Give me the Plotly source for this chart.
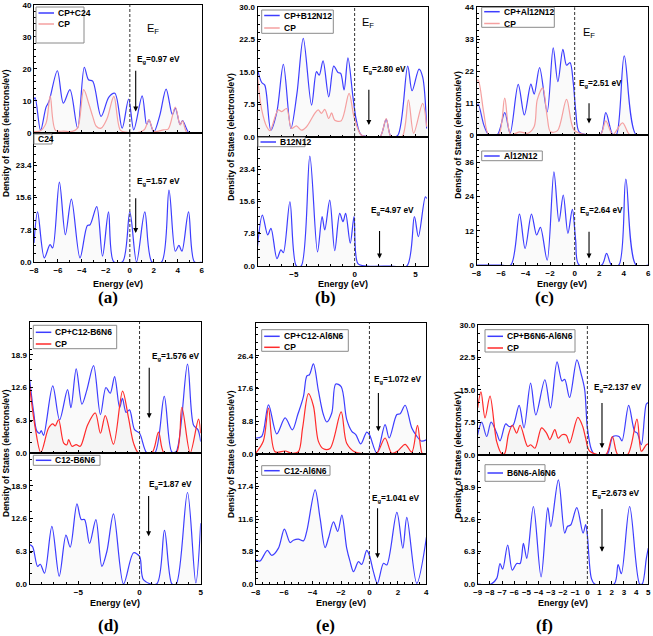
import plotly.graph_objects as go

W, H = 653, 636

# ---------------- data (energy in eV, DOS in electrons/eV) ----------------
# (a) CP+C24 / CP / C24
a_blue_x = [-8, -7.9, -7.45, -7.0, -6.75, -6.05, -5.55, -5.0, -4.36, -3.8, -3.45, -3.1, -2.4, -1.75, -1.25,
            -0.64, -0.1, 0.33, 1.03, 1.4, 1.6, 2.0, 2.5, 3.03, 3.55, 3.8, 4.2, 4.4, 4.95, 5.5, 6.0]
a_blue_y = [10.5, 11, 0.8, 8.0, 9.8, 19.4, 9.3, 13.5, 1.5, 20.5, 16.6, 16.2, 5.2, 11.2, 12.4,
            1.5, 10.6, 1.0, 11.6, 2.6, 4.1, 0.3, 5.5, 13.7, 5.7, 7.8, 2.6, 3.9, 0, 0, 0]
a_red_x = [-8, -7.5, -7.0, -6.65, -6.2, -5.5, -4.8, -4.36, -3.85, -3.4, -3.1, -2.8, -2.4, -1.9, -1.33,
           -0.78, -0.2, 0.5, 1.2, 1.6, 2.0, 2.8, 3.2, 3.8, 4.2, 4.4, 4.8, 6.0]
a_red_y = [0.5, 0.6, 3.0, 11.6, 0.8, 0.6, 0.5, 1.5, 13.5, 8.8, 5.2, 2.1, 1.5, 4.5, 11.4,
           0.8, 0.2, 0, 1.0, 4.1, 0.5, 1.0, 1.2, 8.1, 2.5, 3.8, 0, 0]
a_bot_x = [-8, -7.7, -7.14, -6.66, -6.44, -5.88, -5.38, -4.88, -4.16, -3.55, -3.32, -2.76, -2.28, -1.78,
           -1.35, -0.6, 0.0, 0.56, 1.25, 1.85, 2.65, 3.27, 3.8, 4.1, 4.35, 4.9, 5.4, 6.0]
a_bot_y = [4.6, 12.1, 1.0, 4.2, 3.4, 19.3, 6.6, 15.2, 1.0, 8.8, 9.0, 13.4, 1.4, 12.1,
           0.1, 0.1, 12.1, 0, 12.1, 0, 0, 17.4, 2.6, 4.0, 2.6, 12.1, 0, 0]

# (b) CP+B12N12 / CP / B12N12
b_blue_x = [-8, -7.65, -7.4, -6.9, -6.4, -5.87, -5.25, -4.75, -4.23, -3.55, -3.14, -2.92, -2.6, -2.13, -1.72,
            -1.37, -1.15, -0.87, -0.55, -0.14, 0.14, 0.55, 1.5, 2.1, 2.6, 3.0, 3.55, 4.37, 4.73, 5.3, 5.6, 5.93]
b_blue_y = [15.5, 12.5, 11.9, 1.5, 5.8, 16.7, 1.9, 10, 22.7, 7.3, 15.0, 14.2, 17.5, 9.2, 16.3,
            14.8, 14.6, 10.8, 18.2, 9.2, 3.8, 0.4, 0, 0, 4.0, 0, 0.3, 16.3, 10.6, 15.6, 13.8, 1.9]
b_red_x = [-8, -7.65, -7.24, -6.97, -6.3, -6.0, -5.6, -5.2, -4.8, -4.37, -3.96, -3.28, -3.0, -2.73, -2.46,
           -2.13, -1.9, -1.64, -1.1, -0.46, -0.05, 0.55, 1.5, 2.1, 2.6, 3.0, 3.9, 4.43, 4.86, 5.6, 5.93]
b_red_y = [13.8, 6.2, 2.3, 1.4, 6.2, 5.8, 6.5, 1.9, 2.5, 1.5, 2.3, 5.4, 6.2, 5.4, 6.3,
           4.2, 5.5, 3.8, 3.7, 10.0, 4.6, 0.4, 0, 0, 4.2, 0, 0, 8.5, 0.8, 7.7, 2.3]
b_bot_x = [-8, -7.6, -7.16, -6.89, -6.4, -6.07, -5.87, -5.33, -4.8, -4.4, -3.69, -3.06, -2.68, -2.46, -2.05,
           -1.64, -1.23, -0.96, -0.74, -0.36, -0.05, 0.27, 1.0, 3.0, 4.3, 4.92, 5.25, 5.82, 5.93]
b_bot_y = [4.7, 12.3, 7.5, 9.1, 1.8, 3.9, 3.2, 15.5, 0, 0, 26.5, 3.4, 11.9, 8.7, 15.9,
           3.7, 12.7, 10.7, 12.7, 5.5, 11.9, 0.6, 0, 0, 0, 11.9, 7.1, 16.7, 16.3]

# (c) CP+Al12N12 / CP / Al12N12
c_blue_x = [-8, -7.86, -7.4, -7.0, -6.3, -5.7, -5.26, -4.6, -4.1, -3.57, -3.3, -2.86, -2.24, -1.75, -1.37,
            -0.96, -0.66, -0.38, -0.11, 0.08, 0.36, 1.0, 2.1, 2.54, 3.1, 3.4, 4.04, 5.0, 6.0]
c_blue_y = [9.7, 10.6, 3.3, 0, 0, 7.6, 0.5, 17.4, 6.8, 17.5, 14.0, 23.2, 7.9, 30.0, 18.3,
            29.5, 24.0, 24.9, 17.7, 8.5, 1.0, 0, 0, 7.6, 0, 0, 27.2, 0, 0]
c_red_x = [-8, -7.86, -7.4, -7.0, -6.2, -5.7, -5.2, -4.5, -3.8, -3.3, -3.05, -2.6, -2.24, -1.97, -1.4,
           -0.66, -0.05, 1.0, 2.1, 2.54, 3.1, 3.9, 4.5, 6.0]
c_red_y = [18.3, 18.9, 7.4, 0, 0, 12.6, 0, 1.0, 0.5, 2.8, 12.0, 16.2, 6.2, 1.0, 1.4,
           12.2, 1.6, 0, 0, 4.8, 0, 4.1, 0, 0]
c_bot_x = [-8, -6, -5.2, -4.5, -4.04, -3.52, -3.1, -2.79, -2.24, -1.69, -1.28, -0.93, -0.55, -0.19, 0.08,
           0.36, 2.2, 2.6, 3.0, 3.6, 4.17, 5.0, 6.0]
c_bot_y = [0, 0, 0, 17.8, 5.8, 17.8, 10.5, 13.2, 1.7, 32.6, 15.2, 24.5, 11.1, 19.5, 8.7,
           0, 0, 4.1, 0, 0, 30.1, 0, 0]

# (d) CP+C12-B6N6 / CP / C12-B6N6
d_blue_x = [-9, -8.67, -8.4, -8.17, -8.04, -7.85, -7.1, -6.54, -5.89, -5.61, -5.18, -4.71, -4.3, -3.76, -3.2,
            -2.75, -2.4, -2.04, -1.63, -1.4, -1.1, -0.82, -0.41, 0, 0.6, 1.25, 2.02, 2.64, 3.0, 3.92, 4.41,
            4.77, 5.0]
d_blue_y = [14.3, 8.0, 4.2, 3.8, 4.3, 3.4, 12.9, 6.4, 12.2, 8.7, 16.2, 9.4, 12.2, 16.8, 7.4,
            12.6, 11.5, 14.7, 8.7, 10.5, 7.8, 8.3, 4.5, 3.8, 0, 0, 10.9, 0.2, 0.3, 17.1, 5.4,
            4.5, 2.2]
d_red_x = [-9, -8.53, -8.07, -7.44, -7.1, -6.9, -6.62, -6.2, -5.94, -5.8, -5.53, -5.18, -4.85, -4.25, -3.62,
           -3.2, -2.8, -2.13, -1.39, -0.9, -0.49, -0.08, 1.0, 1.55, 2.0, 3.0, 3.46, 4.14, 4.82, 5.0]
d_red_y = [13.1, 4.8, 0.1, 4.8, 5.6, 5.2, 6.4, 1.9, 1.6, 2.6, 1.3, 1.6, 1.3, 5.4, 7.7,
           3.8, 7.2, 1.7, 11.9, 6.7, 1.9, 0, 0, 4.0, 0, 0, 8.8, 0, 6.5, 3.8]
d_bot_x = [-9, -8.75, -8.34, -8.12, -7.77, -7.17, -6.57, -6.02, -5.67, -5.12, -4.77, -4.5, -4.09, -3.57, -3.08,
           -2.67, -2.13, -1.31, -0.49, 0, 0.33, 1.4, 2.04, 2.65, 3.0, 3.92, 4.6, 5.0]
d_bot_y = [7.6, 7.2, 3.4, 3.8, 2.1, 11.1, 1.5, 9.4, 7.1, 15.4, 12.4, 12.4, 7.8, 12.4, 3.4,
           6.3, 13.5, 0, 6.0, 5.3, 0.8, 0, 10.3, 0, 0, 17.6, 0.2, 11.7]

# (e) CP+C12-Al6N6 / CP / C12-Al6N6
e_blue_x = [-8, -7.58, -7.1, -6.52, -5.93, -5.42, -5.04, -4.64, -4.4, -4.22, -3.94, -3.59, -3.24, -3.0, -2.65,
            -2.37, -1.99, -1.6, -1.24, -0.96, -0.61, -0.19, 0, 0.52, 1.1, 1.39, 1.93, 2.16, 2.51, 2.98, 3.29,
            3.64, 4.0]
e_blue_y = [4.3, 4.7, 13.2, 5.4, 9.7, 6.5, 10.6, 15.5, 21.0, 21.3, 24.2, 17.0, 10.6, 8.6, 11.0,
            18.8, 18.1, 9.3, 6.1, 5.2, 2.7, 5.9, 5.2, 0.2, 7.9, 4.3, 10.6, 10.8, 13.1, 7.0, 5.0,
            3.5, 3.8]
e_red_x = [-8, -7.46, -7.1, -6.64, -5.93, -5.46, -5.0, -4.7, -4.29, -3.94, -3.59, -3.24, -2.77, -1.99, -1.6,
           -1.0, 0, 0.52, 1.1, 1.57, 1.99, 2.51, 2.98, 3.38, 3.73, 4.0]
e_red_y = [0.2, 3.5, 12.3, 0.6, 0.8, 0.2, 0.6, 7.0, 16.2, 12.9, 3.4, 1.4, 1.5, 11.3, 2.9,
           0.5, 0, 0.2, 4.3, 0.2, 0.8, 2.6, 0.5, 7.7, 0, 0]
e_bot_x = [-8, -7.7, -7.18, -6.87, -6.4, -5.98, -5.58, -5.35, -5.0, -4.64, -4.41, -3.82, -3.47, -3.12, -2.88,
           -2.53, -2.23, -1.94, -1.6, -1.36, -1.12, -0.77, -0.54, -0.19, 0, 0.28, 0.56, 0.99, 1.22, 1.93,
           2.35, 2.63, 3.33, 4.04]
e_bot_y = [4.3, 4.1, 6.0, 5.1, 6.4, 9.8, 7.4, 7.8, 8.0, 7.7, 9.4, 16.8, 11.7, 6.5, 8.2,
           11.1, 9.4, 12.3, 6.4, 4.0, 2.2, 4.0, 3.5, 6.0, 5.1, 2.2, 0.1, 3.7, 3.4, 12.8,
           6.4, 11.9, 0.1, 8.8]

# (f) CP+B6N6-Al6N6 / CP / B6N6-Al6N6
f_blue_x = [-9, -8.67, -8.26, -7.9, -7.44, -7.17, -6.7, -6.43, -6.1, -5.6, -5.2, -4.66, -4.23, -3.49, -3.03,
            -2.49, -2.08, -1.86, -1.46, -0.86, -0.5, -0.22, 0, 0.33, 0.6, 1.6, 2.1, 2.6, 2.84, 3.39, 3.88,
            4.1, 4.43, 4.84, 5.0]
f_blue_y = [4.6, 7.5, 4.2, 7.5, 5.0, 3.2, 7.1, 6.5, 6.8, 11.4, 6.2, 16.5, 9.2, 17.3, 10.8,
            21.4, 17.0, 17.4, 13.2, 21.9, 18.5, 15.0, 6.2, 1.2, 0, 0, 4.2, 4.2, 3.2, 11.4, 5.4,
            5.0, 2.3, 11.7, 12.0]
f_red_x = [-9, -8.73, -8.4, -7.99, -7.44, -7.03, -6.8, -6.48, -6.16, -5.8, -5.52, -4.9, -4.66, -4.3, -3.76,
           -3.35, -3.08, -2.67, -2.4, -2.08, -1.73, -1.46, -0.78, -0.38, -0.14, 0.19, 1.5, 2.05, 2.5, 3.3,
           4.07, 4.43, 4.84, 5.0]
f_red_y = [10.8, 14.5, 8.5, 13.5, 3.0, 0.2, 0.2, 4.6, 6.8, 5.0, 6.8, 1.9, 2.3, 1.5, 6.2,
           5.0, 3.5, 5.8, 3.8, 4.6, 4.5, 2.7, 8.6, 6.5, 3.8, 0.8, 0, 4.2, 0, 0,
           8.2, 0.8, 2.3, 2.5]
f_bot_x = [-9, -7.9, -7.44, -7.17, -6.95, -6.54, -6.16, -5.8, -5.52, -5.25, -4.97, -4.43, -3.8, -3.25, -3.0,
           -2.38, -1.86, -1.64, -1.37, -0.87, -0.35, -0.14, 0, 0.33, 0.6, 2.2, 2.52, 2.79, 3.47, 4.29,
           4.5, 4.84, 5.0]
f_bot_y = [0, 0, 1.1, 4.0, 2.9, 7.6, 2.7, 4.0, 4.0, 7.9, 5.0, 15.1, 1.4, 14.9, 11.2,
           20.3, 9.9, 11.2, 11.5, 14.9, 9.9, 11.6, 9.5, 1.1, 0, 0, 3.8, 2.0, 15.1, 0,
           0, 5.0, 7.0]

# band gaps written on the panels
gap_top = ["0.97", "2.80", "2.51", "1.576", "1.072", "2.137"]
gap_bot = ["1.57", "4.97", "2.64", "1.87", "1.041", "2.673"]
top_names = ["CP+C24", "CP+B12N12", "CP+Al12N12", "CP+C12-B6N6", "CP+C12-Al6N6", "CP+B6N6-Al6N6"]
bot_names = ["C24", "B12N12", "Al12N12", "C12-B6N6", "C12-Al6N6", "B6N6-Al6N6"]
letters = ["(a)", "(b)", "(c)", "(d)", "(e)", "(f)"]

BLUE = "#3d3dff"
PINK = "#f5a0a0"
RED = "#ff2b2b"
FILL = "rgba(185,185,185,0.08)"
FONT = "Arial, Liberation Sans, sans-serif"


def px(x):
    return x / W


def py(y):
    return 1 - y / H


panels = [
    # frame in pixels: left, right, top, middle, bottom; legend boxes in pixels
    dict(box=(34, 201.7, 4.7, 133, 262), xr=[-8, 6], xt=[-8, -6, -4, -2, 0, 2, 4, 6],
         curves=(a_blue_x, a_blue_y, a_red_x, a_red_y, a_bot_x, a_bot_y), red=PINK,
         yr_top=[0, 40], yt_top=[0, 10, 20, 30, 40], fmt_top="d",
         yr_bot=[0, 31.2], yt_bot=[0, 7.8, 15.6, 23.4], fmt_bot=".1f",
         gtop=(0.43, 22.8, 0.49, 19.9, 6.7), gbot=(0.43, 19.5, 0.49, 15.8, 7.0), ef=(1.27, 32.3),
         leg_top=(36, 7, 84, 43), rows_top=(13, 24), leg_bot=(34, 134, 52, 144), row_bot=139,
         yt_x=6, lab_x=108),
    dict(box=(257.5, 427.5, 6.7, 136.7, 266), xr=[-8, 6], xt=[-5, 0, 5],
         curves=(b_blue_x, b_blue_y, b_red_x, b_red_y, b_bot_x, b_bot_y), red=PINK,
         yr_top=[0, 30], yt_top=[0, 7.5, 15, 22.5, 30], fmt_top=".1f",
         yr_bot=[0, 31.2], yt_bot=[0, 7.8, 15.6, 23.4], fmt_bot=".1f",
         gtop=(0.55, 15.4, 1.17, 11.2, 2.7), gbot=(1.15, 13.5, 2.05, 8.8, 1.8), ef=(0.41, 26.2),
         leg_top=(261.7, 10, 333.3, 33.3), rows_top=(15.5, 28), leg_bot=(258, 137.3, 305, 146.7), row_bot=142,
         yt_x=231, lab_x=325),
    dict(box=(476.5, 648.3, 7.3, 134.7, 265), xr=[-8, 6], xt=[-8, -6, -4, -2, 0, 2, 4, 6],
         curves=(c_blue_x, c_blue_y, c_red_x, c_red_y, c_bot_x, c_bot_y), red=PINK,
         yr_top=[0, 44], yt_top=[0, 11, 22, 33, 44], fmt_top="d",
         yr_bot=[0, 45.6], yt_bot=[0, 12, 24, 36], fmt_bot="d",
         gtop=(0.22, 17.7, 1.17, 11.4, 3.9), gbot=(0.27, 19.2, 1.17, 12.2, 2.3), ef=(0.49, 35.0),
         leg_top=(481.7, 7.3, 554.3, 27.3), rows_top=(11.7, 23.5), leg_bot=(481.7, 151, 542.3, 160.7), row_bot=156,
         yt_x=458, lab_x=544),
    dict(box=(29.5, 200.7, 322, 453, 584), xr=[-9, 5], xt=[-5, 0, 5],
         curves=(d_blue_x, d_blue_y, d_red_x, d_red_y, d_bot_x, d_bot_y), red=RED,
         yr_top=[0, 25.2], yt_top=[0, 6.3, 12.6, 18.9], fmt_top=".1f",
         yr_bot=[0, 25.2], yt_bot=[0, 6.3, 12.6, 18.9], fmt_bot=".1f",
         gtop=(0.82, 18.6, 0.79, 16.7, 6.7), gbot=(0.6, 19.2, 0.74, 17.2, 9.2), ef=None,
         leg_top=(33.3, 325.3, 116.7, 348.7), rows_top=(332.3, 344), leg_bot=(33.3, 455.3, 100, 465.3), row_bot=460.3,
         yt_x=6, lab_x=108),
    dict(box=(255.7, 426.3, 323, 454, 584), xr=[-8, 4], xt=[-8, -6, -4, -2, 0, 2, 4],
         curves=(e_blue_x, e_blue_y, e_red_x, e_red_y, e_bot_x, e_bot_y), red=RED,
         yr_top=[0, 35.2], yt_top=[0, 8.8, 17.6, 26.4], fmt_top=".1f",
         yr_bot=[0, 23.2], yt_bot=[0, 5.8, 11.6, 17.4], fmt_bot=".1f",
         gtop=(0.16, 19.9, 0.63, 16.8, 6.1), gbot=(0.05, 15.3, 0.57, 13.8, 4.6), ef=None,
         leg_top=(261.7, 329.7, 348.3, 351.3), rows_top=(336.3, 347.3), leg_bot=(261.7, 465.7, 330, 475.3), row_bot=470.7,
         yt_x=231, lab_x=325),
    dict(box=(477.7, 648.3, 324.7, 454.7, 584), xr=[-9, 5], xt=list(range(-9, 6)),
         curves=(f_blue_x, f_blue_y, f_red_x, f_red_y, f_bot_x, f_bot_y), red=RED,
         yr_top=[0, 30], yt_top=[0, 7.5, 15, 22.5, 30], fmt_top=".1f",
         yr_bot=[0, 25.2], yt_bot=[0, 6.3, 12.6, 18.9], fmt_bot=".1f",
         gtop=(0.41, 15.5, 1.2, 12.3, 1.5), gbot=(0.19, 17.7, 1.2, 14.9, 6.3), ef=None,
         leg_top=(485, 329.7, 575, 352), rows_top=(336.3, 348), leg_bot=(485, 464.7, 545, 481.3), row_bot=473,
         yt_x=458, lab_x=544),
]

fig = go.Figure()
layout = dict(width=W, height=H, margin=dict(l=0, r=0, t=0, b=0, autoexpand=False),
              paper_bgcolor="white", plot_bgcolor="white", showlegend=False,
              font=dict(family=FONT, size=8, color="black"))
annotations = []
shapes = []

axis_common = dict(showline=True, linecolor="black", linewidth=1, mirror=True, ticks="inside",
                   ticklen=3, tickcolor="black", showgrid=False, zeroline=False, automargin=False,
                   tickfont=dict(family=FONT, size=8, weight="bold"),
                   minor=dict(ticks="inside", ticklen=2, tickcolor="black"))


def add_line(xs, ys, color, xa, ya):
    fig.add_trace(go.Scatter(x=xs, y=ys, mode="lines", fill="tozeroy", fillcolor=FILL,
                             line=dict(width=0, shape="spline", smoothing=0.9),
                             xaxis=xa, yaxis=ya, hoverinfo="skip"))
    fig.add_trace(go.Scatter(x=xs, y=ys, mode="lines",
                             line=dict(color=color, width=1.2, shape="spline", smoothing=0.9),
                             xaxis=xa, yaxis=ya, hoverinfo="skip"))


def legend_box(bx, rows):
    x0, y0, x1, y1 = bx
    shapes.append(dict(type="rect", xref="paper", yref="paper", x0=px(x0), x1=px(x1),
                       y0=py(y1), y1=py(y0), line=dict(color="#8a8a8a", width=1),
                       fillcolor="white", layer="above"))
    for yy, name, color in rows:
        if color is not None:
            shapes.append(dict(type="line", xref="paper", yref="paper", x0=px(x0 + 2.5), x1=px(x0 + 18),
                               y0=py(yy), y1=py(yy), line=dict(color=color, width=1.5), layer="above"))
            tx = x0 + 20
        else:
            tx = x0 + 2
        annotations.append(dict(xref="paper", yref="paper", x=px(tx), y=py(yy), xanchor="left",
                                yanchor="middle", text="<b>" + name + "</b>", showarrow=False,
                                font=dict(family=FONT, size=8.5)))


for k, p in enumerate(panels):
    l, r, t, m, b = p["box"]
    it, ib = 2 * k + 1, 2 * k + 2
    xt_, yt_ = f"x{it}", f"y{it}"
    xb_, yb_ = f"x{ib}", f"y{ib}"
    bx, by, rx, ry, cx, cy = p["curves"]

    add_line(bx, by, BLUE, xt_, yt_)
    add_line(rx, ry, p["red"], xt_, yt_)
    add_line(cx, cy, BLUE, xb_, yb_)

    layout[f"xaxis{it}"] = dict(axis_common, domain=[px(l), px(r)], anchor=yt_, range=p["xr"],
                                tickvals=p["xt"], showticklabels=False)
    layout[f"yaxis{it}"] = dict(axis_common, domain=[py(m), py(t)], anchor=xt_, range=p["yr_top"],
                                tickvals=p["yt_top"], tickformat=p["fmt_top"])
    layout[f"xaxis{ib}"] = dict(axis_common, domain=[px(l), px(r)], anchor=yb_, range=p["xr"],
                                tickvals=p["xt"])
    layout[f"yaxis{ib}"] = dict(axis_common, domain=[py(b), py(m)], anchor=xb_, range=p["yr_bot"],
                                tickvals=p["yt_bot"], tickformat=p["fmt_bot"])

    # legends
    legend_box(p["leg_top"], [(p["rows_top"][0], top_names[k], BLUE),
                              (p["rows_top"][1], "CP", p["red"])])
    legend_box(p["leg_bot"], [(p["row_bot"], bot_names[k], None if k == 0 else BLUE)])

    # Fermi level
    shapes.append(dict(type="line", xref=xt_, yref="paper", x0=0, x1=0, y0=py(b), y1=py(t),
                       line=dict(color="#333333", width=1, dash="3px,2px")))

    # band-gap labels and arrows
    for (tx, ty, ax_, y0, y1), gap, xa, ya in ((p["gtop"], gap_top[k], xt_, yt_),
                                              (p["gbot"], gap_bot[k], xb_, yb_)):
        annotations.append(dict(xref=xa, yref=ya, x=tx, y=ty, xanchor="left", yanchor="middle",
                                text="<b>E<sub>g</sub>=" + gap + " eV</b>", showarrow=False,
                                font=dict(family=FONT, size=8.3)))
        annotations.append(dict(xref=xa, yref=ya, axref=xa, ayref=ya, x=ax_, y=y1, ax=ax_, ay=y0,
                                text="", showarrow=True, arrowhead=2, arrowsize=0.9, arrowwidth=1.1,
                                arrowcolor="black"))
    if p["ef"] is not None:
        annotations.append(dict(xref=xt_, yref=yt_, x=p["ef"][0], y=p["ef"][1], xanchor="left",
                                yanchor="middle", text="E<sub>F</sub>", showarrow=False,
                                font=dict(family=FONT, size=11)))

    # axis titles and panel letter
    row_title_y = 284 if k < 3 else 603
    row_label_y = 297 if k < 3 else 625
    annotations.append(dict(xref="paper", yref="paper", x=px((l + r) / 2), y=py(row_title_y),
                            xanchor="center", yanchor="middle",
                            text="<b>Energy (eV)</b>", showarrow=False,
                            font=dict(family=FONT, size=9)))
    annotations.append(dict(xref="paper", yref="paper", x=px(p["yt_x"]), y=py(m),
                            xanchor="center", yanchor="middle",
                            text="<b>Density of States (electrons/eV)</b>", showarrow=False,
                            textangle=-90, font=dict(family=FONT, size=8.5)))
    annotations.append(dict(xref="paper", yref="paper", x=px(p["lab_x"]), y=py(row_label_y),
                            xanchor="center", yanchor="middle",
                            text="<b>" + letters[k] + "</b>", showarrow=False,
                            font=dict(family="Liberation Serif, Times New Roman, serif", size=17)))

layout["annotations"] = annotations
layout["shapes"] = shapes
fig.update_layout(**layout)
# the page's default 8px body margin would push the figure off the window
fig.write_html("out.html", config={"displayModeBar": False},
               post_script="document.body.style.margin='0px';")
